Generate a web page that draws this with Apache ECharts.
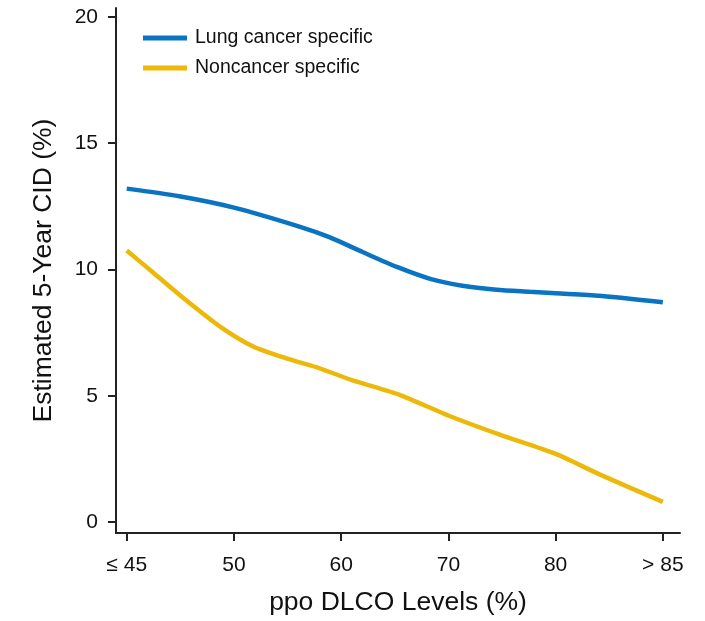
<html>
<head>
<meta charset="UTF-8">
<title>CID</title>
<script src="https://cdn.jsdelivr.net/npm/echarts@6/dist/echarts.min.js"></script>
<style>
    body { margin: 0; padding: 0; background: #fff; }
    #echart { width: 705px; height: 621px; }
</style>
</head>
<body>
<div id="echart"></div>
<script>
    // x positions are category indices (0 = "≤ 45" ... 5 = "> 85")
    const xLabels = ['\u2264 45', '50', '60', '70', '80', '> 85'];
    const xTicks = [0, 1, 2, 3, 4, 5];
    const yTicks = [0, 5, 10, 15, 20];

    const lungX = [0, 0.49, 1, 1.61, 1.89, 2.2, 2.52, 2.83, 3.13, 3.45, 3.76, 4, 4.41, 5];
    const lungY = [13.2, 12.9, 12.45, 11.7, 11.28, 10.69, 10.1, 9.63, 9.36, 9.2, 9.12, 9.06, 8.96, 8.7];

    const nonX = [0, 0.24, 0.56, 0.87, 1.18, 1.49, 1.8, 2.1, 2.55, 3.01, 3.48, 4, 4.41, 5];
    const nonY = [10.75, 9.9, 8.76, 7.74, 6.95, 6.48, 6.09, 5.62, 5.03, 4.2, 3.46, 2.7, 1.89, 0.8];

    const pairs = (xs, ys) => xs.map((x, i) => [x, ys[i]]);

    const ec = echarts.init(document.getElementById('echart'));
    ec.setOption({
        animation: false,
        backgroundColor: '#fff',
        textStyle: { fontFamily: 'Liberation Sans, Arial, sans-serif' },
        grid: { left: 116, right: 25, top: 8, bottom: 85 },
        legend: {
            orient: 'vertical',
            left: 143,
            top: 28,
            padding: 0,
            itemWidth: 44,
            itemHeight: 5,
            itemGap: 10,
            icon: 'rect',
            textStyle: { fontSize: 19.5, color: '#111', padding: [0, 0, 0, 3] },
            data: ['Lung cancer specific', 'Noncancer specific']
        },
        xAxis: {
            type: 'value',
            min: -0.1,
            max: 5.16,
            name: 'ppo DLCO Levels (%)',
            nameLocation: 'middle',
            nameGap: 56,
            nameTextStyle: { fontSize: 26.5, color: '#111' },
            splitLine: { show: false },
            axisLine: { onZero: false, lineStyle: { color: '#222', width: 2 } },
            axisTick: { show: true, length: 8, lineStyle: { color: '#222', width: 2 }, customValues: xTicks },
            axisLabel: {
                customValues: xTicks,
                formatter: v => xLabels[Math.round(v)],
                fontSize: 21, color: '#111', margin: 22
            }
        },
        yAxis: {
            type: 'value',
            min: -0.43,
            max: 20.35,
            name: 'Estimated 5-Year CID (%)',
            nameLocation: 'middle',
            nameGap: 59,
            nameTextStyle: { fontSize: 26.5, color: '#111' },
            splitLine: { show: false },
            axisLine: { show: true, onZero: false, lineStyle: { color: '#222', width: 2 } },
            axisTick: { show: true, length: 8, lineStyle: { color: '#222', width: 2 }, customValues: yTicks },
            axisLabel: { customValues: yTicks, fontSize: 21, color: '#111', margin: 18 }
        },
        series: [
            {
                name: 'Lung cancer specific',
                type: 'line',
                smooth: 0.25,
                showSymbol: false,
                itemStyle: { color: '#0a74c2' },
                lineStyle: { width: 4.5, color: '#0a74c2' },
                data: pairs(lungX, lungY)
            },
            {
                name: 'Noncancer specific',
                type: 'line',
                smooth: 0.25,
                showSymbol: false,
                itemStyle: { color: '#ecb90a' },
                lineStyle: { width: 4.5, color: '#ecb90a' },
                data: pairs(nonX, nonY)
            }
        ]
    });
</script>
</body>
</html>
